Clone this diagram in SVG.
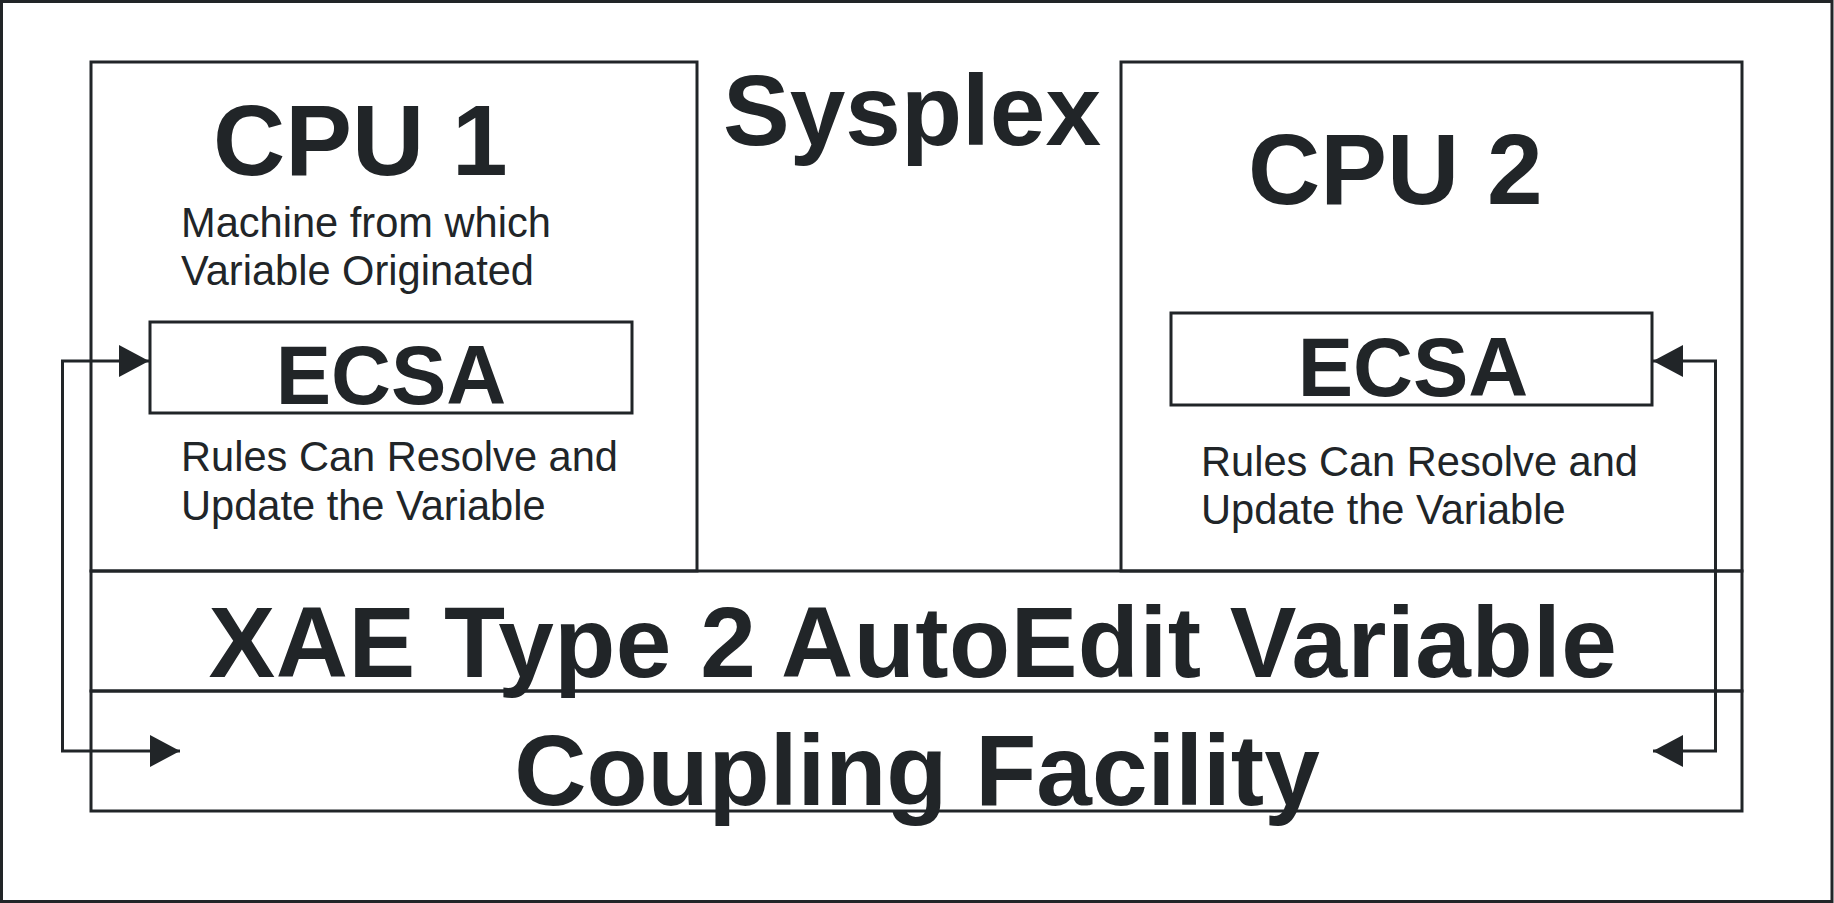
<svg xmlns="http://www.w3.org/2000/svg" width="1834" height="903" viewBox="0 0 1834 903">
  <style>
    .box { fill: none; stroke: #212528; stroke-width: 3; }
    .conn { fill: none; stroke: #212528; stroke-width: 3; }
    .big { font-family: "Liberation Sans", Arial, sans-serif; font-weight: bold; font-size: 100px; fill: #212528; }
    .ecsa { font-family: "Liberation Sans", Arial, sans-serif; font-weight: bold; font-size: 83px; fill: #212528; text-anchor: middle; }
    .small { font-family: "Liberation Sans", Arial, sans-serif; font-size: 41.6px; fill: #212528; }
  </style>
  <defs>
    <marker id="arrow" viewBox="0 0 30 32" refX="30" refY="16" markerWidth="30" markerHeight="32" markerUnits="userSpaceOnUse" orient="auto-start-reverse">
      <path d="M0,0 L30,16 L0,32 z" fill="#212528"/>
    </marker>
  </defs>
  <rect x="0" y="0" width="1834" height="903" fill="#ffffff"/>
  <g id="sysplex">
    <rect class="box" x="1.5" y="1.5" width="1830.5" height="900"/>
    <text class="big" x="723" y="145">Sysplex</text>
  </g>
  <g id="cpu1">
    <rect class="box" x="91" y="62" width="606" height="509"/>
    <text class="big" x="213" y="175">CPU 1</text>
    <text class="small" x="181" y="237">Machine from which</text>
    <text class="small" x="181" y="285">Variable Originated</text>
    <text class="small" x="181" y="471">Rules Can Resolve and</text>
    <text class="small" x="181" y="520">Update the Variable</text>
  </g>
  <g id="ecsa1">
    <rect class="box" x="150" y="322" width="482" height="91"/>
    <text class="ecsa" x="391" y="404">ECSA</text>
  </g>
  <g id="cpu2">
    <rect class="box" x="1121" y="62" width="621" height="509"/>
    <text class="big" x="1248" y="204">CPU 2</text>
    <text class="small" x="1201" y="476">Rules Can Resolve and</text>
    <text class="small" x="1201" y="524">Update the Variable</text>
  </g>
  <g id="ecsa2">
    <rect class="box" x="1171" y="313" width="481" height="92"/>
    <text class="ecsa" x="1413" y="396">ECSA</text>
  </g>
  <g id="xae">
    <rect class="box" x="91" y="571" width="1651" height="120"/>
    <text class="big" x="913" y="677" text-anchor="middle" letter-spacing="0.5">XAE Type 2 AutoEdit Variable</text>
  </g>
  <g id="coupling">
    <rect class="box" x="91" y="691" width="1651" height="120"/>
    <text class="big" x="917" y="805" text-anchor="middle">Coupling Facility</text>
  </g>
  <g id="connectors">
    <path class="conn" d="M180,751 H62.5 V361 H149" marker-start="url(#arrow)" marker-end="url(#arrow)"/>
    <path class="conn" d="M1653,751 H1715.5 V361 H1653" marker-start="url(#arrow)" marker-end="url(#arrow)"/>
  </g>
</svg>
